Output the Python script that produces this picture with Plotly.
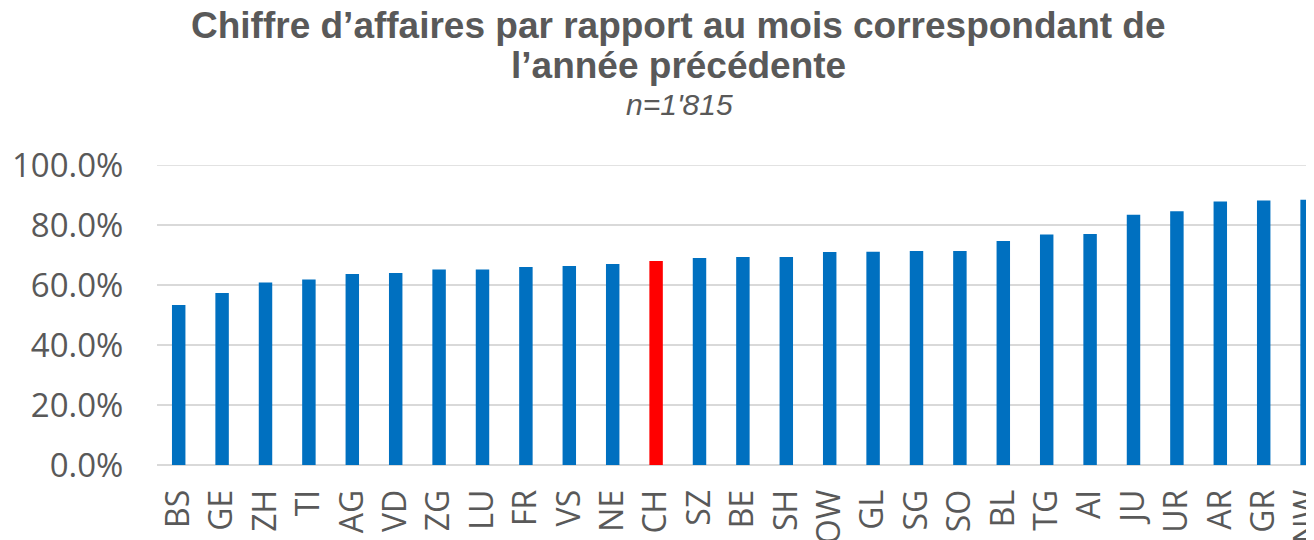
import plotly.graph_objects as go

cantons = ["BS", "GE", "ZH", "TI", "AG", "VD", "ZG", "LU", "FR", "VS", "NE", "CH", "SZ",
           "BE", "SH", "OW", "GL", "SG", "SO", "BL", "TG", "AI", "JU", "UR", "AR", "GR", "NW"]
values = [0.533, 0.573, 0.608, 0.618, 0.637, 0.640, 0.652, 0.652, 0.660, 0.663, 0.670, 0.680, 0.690,
          0.693, 0.693, 0.710, 0.711, 0.713, 0.713, 0.747, 0.768, 0.770, 0.834, 0.846, 0.878, 0.882, 0.884]
highlight = "CH"
y_ticks = [0, 0.2, 0.4, 0.6, 0.8, 1.0]
title_line1 = "Chiffre d’affaires par rapport au mois correspondant de"
title_line2 = "l’année précédente"
subtitle = "n=1'815"

BLUE = "#0070C0"
RED = "#FF0000"
GREY = "#595959"
GRID = "#D9D9D9"

colors = [RED if c == highlight else BLUE for c in cantons]

fig = go.Figure(go.Bar(x=cantons, y=values, marker=dict(color=colors, line=dict(width=0)),
                       width=0.31, hoverinfo="x+y"))

# the page body adds an 8px offset; size and margins compensate for it
W, H = 1306, 532
ml, mr, mt, mb = 149, 0, 157, 75
plot_h = H - mt - mb
plot_w = W - ml - mr
band = 43.4
x_max = -0.5 + plot_w / band


def py(ypix):
    return (H - mb - ypix) / plot_h


def px(xpix):
    return (xpix - ml) / plot_w


fig.update_layout(
    width=W, height=H,
    margin=dict(l=ml, r=mr, t=mt, b=mb, pad=0),
    paper_bgcolor="white", plot_bgcolor="white",
    showlegend=False,
    font=dict(family="Open Sans", color=GREY),
    xaxis=dict(range=[-0.5, x_max], type="category", tickangle=-90, automargin=False,
               tickfont=dict(family="Open Sans", size=32, color=GREY),
               ticks="outside", ticklen=11, tickcolor="rgba(0,0,0,0)",
               showgrid=False, showline=False, zeroline=False),
    yaxis=dict(range=[0, 1.0], tickvals=y_ticks, tickformat=".1%", automargin=False,
               tickfont=dict(family="Open Sans", size=33, color=GREY),
               ticks="outside", ticklen=26, tickcolor="rgba(0,0,0,0)",
               showgrid=True, gridcolor=GRID, gridwidth=1.5,
               zeroline=True, zerolinecolor=GRID, zerolinewidth=1.5,
               showline=False),
    shapes=[dict(type="line", xref="paper", yref="y", x0=0, x1=1, y0=1.0, y1=1.0,
                 line=dict(color=GRID, width=1.5), layer="below")],
)

fig.add_annotation(text="<b>" + title_line1 + "</b>",
                   xref="paper", yref="paper", x=px(670), y=py(17), showarrow=False,
                   font=dict(family="Liberation Sans", size=37, color=GREY),
                   xanchor="center", yanchor="middle")
fig.add_annotation(text="<b>" + title_line2 + "</b>",
                   xref="paper", yref="paper", x=px(670), y=py(57), showarrow=False,
                   font=dict(family="Liberation Sans", size=37, color=GREY),
                   xanchor="center", yanchor="middle")
fig.add_annotation(text="<i>" + subtitle + "</i>",
                   xref="paper", yref="paper", x=px(671), y=py(96), showarrow=False,
                   font=dict(family="Liberation Sans", size=30, color=GREY),
                   xanchor="center", yanchor="middle")

fig.write_html("out.html")
